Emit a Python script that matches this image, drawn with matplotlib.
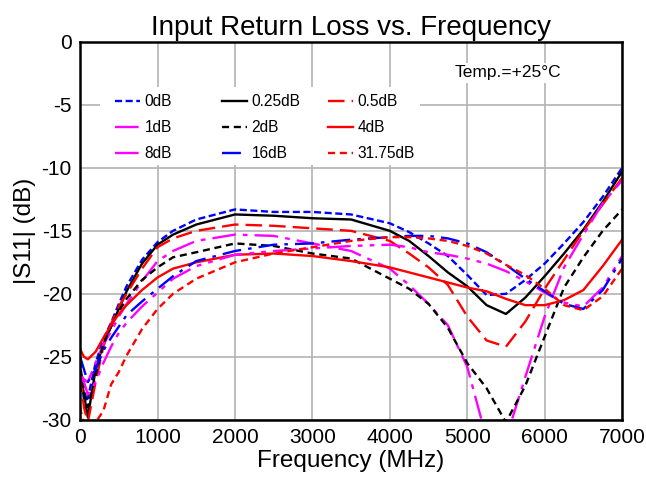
import numpy as np
import matplotlib
matplotlib.use('Agg')
import matplotlib.pyplot as plt
from matplotlib.patches import Rectangle
from matplotlib.legend import Legend

plt.rcParams['font.family'] = ['Liberation Sans', 'DejaVu Sans']
plt.rcParams['axes.unicode_minus'] = False

# frequency points (MHz)
freq = [0, 50, 100, 200, 300, 400, 500, 600, 800, 1000, 1200, 1500, 2000, 2500, 3000,
        3500, 4000, 4250, 4500, 4750, 5000, 5250, 5500, 5750, 6000, 6250, 6500, 6750, 7000]

s11_0db = [-25.3, -28.5, -28.3, -25.5, -23.6, -22.3, -20.8, -19.4, -17.3, -15.9, -15.0, -14.1, -13.3, -13.5, -13.5,
           -13.7, -14.4, -15.1, -16.0, -17.0, -18.5, -20.1, -20.0, -18.9, -17.6, -16.0, -14.3, -12.3, -10.0]
s11_025db = [-26.0, -28.0, -29.8, -26.0, -24.0, -22.6, -21.2, -19.8, -17.6, -16.1, -15.3, -14.5, -13.7, -13.8, -14.0,
             -14.1, -15.0, -15.8, -17.0, -18.3, -19.4, -20.9, -21.6, -20.3, -18.6, -16.8, -14.9, -12.7, -10.3]
s11_05db = [-26.5, -29.0, -30.2, -27.0, -24.2, -22.4, -21.0, -20.0, -18.0, -16.3, -15.6, -15.0, -14.5, -14.6, -14.8,
            -15.0, -15.8, -16.8, -17.9, -19.3, -21.8, -23.7, -24.2, -22.2, -19.6, -17.3, -15.0, -12.9, -10.8]
s11_1db = [-26.3, -26.8, -27.0, -25.5, -24.0, -23.0, -21.8, -20.8, -19.0, -17.4, -16.6, -15.8, -15.3, -15.4, -16.0,
           -16.6, -18.0, -19.3, -20.8, -22.5, -25.8, -31.5, -31.5, -26.6, -21.8, -17.9, -15.3, -12.8, -11.0]
s11_2db = [-26.0, -27.5, -29.0, -26.5, -24.0, -22.6, -21.4, -20.4, -18.9, -17.9, -17.1, -16.7, -16.0, -16.2, -16.8,
           -17.2, -18.8, -19.6, -20.8, -22.7, -25.5, -27.5, -30.2, -27.3, -23.4, -19.5, -17.1, -15.0, -13.3]
s11_4db = [-24.4, -25.0, -25.2, -24.6, -23.5, -22.5, -21.6, -20.9, -19.7, -18.7, -18.0, -17.5, -16.9, -16.8, -17.0,
           -17.4, -17.9, -18.3, -18.7, -19.1, -19.5, -19.8, -20.4, -20.9, -20.9, -20.5, -19.7, -17.8, -15.7]
s11_8db = [-26.5, -27.0, -28.0, -27.0, -25.5, -24.2, -23.1, -22.3, -21.0, -19.9, -18.8, -17.8, -16.9, -16.6, -16.4,
           -16.2, -16.1, -16.3, -16.7, -16.9, -17.2, -17.6, -18.2, -19.0, -19.9, -20.7, -21.0, -19.5, -17.0]
s11_16db = [-25.0, -26.0, -27.0, -26.0, -24.5, -23.5, -22.6, -21.7, -20.6, -19.6, -18.6, -17.4, -16.6, -16.1, -16.0,
            -15.7, -15.5, -15.4, -15.4, -15.6, -16.0, -16.7, -17.7, -18.8, -19.8, -20.8, -21.2, -19.7, -17.2]
s11_3175db = [-29.0, -30.5, -30.5, -30.2, -29.3, -27.2, -26.2, -24.9, -22.8, -21.2, -20.0, -18.8, -17.5, -16.8, -16.3,
              -15.8, -15.5, -15.5, -15.6, -15.8, -16.2, -16.8, -17.7, -18.5, -19.6, -20.9, -21.3, -20.2, -18.0]

labels = ['0dB', '0.25dB', '0.5dB', '1dB', '2dB', '4dB', '8dB', '16dB', '31.75dB']
series = [s11_0db, s11_025db, s11_05db, s11_1db, s11_2db, s11_4db, s11_8db, s11_16db, s11_3175db]
colors = ['#0000ff', '#000000', '#ff0000', '#ff00ff', '#000000', '#ff0000', '#ff00ff', '#0000ff', '#ff0000']
styles = [(0, (3, 1.5)), '-', (0, (7, 3)), (0, (10, 3, 2, 3)), (0, (3, 2)), '-',
          (0, (10, 3, 2, 3, 2, 3)), (0, (8, 3, 1.5, 3)), (0, (3, 2))]

fig = plt.figure(figsize=(6.46, 4.87), dpi=100)
ax = fig.add_axes([0.124, 0.138, 0.839, 0.776])

lines = []
for lab, ys, c, ls in zip(labels, series, colors, styles):
    ln, = ax.plot(freq, ys, color=c, linestyle=ls, lw=1.7, label=lab)
    lines.append(ln)

ax.set_xlim(0, 7000)
ax.set_ylim(-30, 0)
ax.set_xticks(np.arange(0, 7001, 1000))
ax.set_yticks(np.arange(-30, 1, 5))
ax.grid(True, color='#b3b3b3', lw=1.2)
ax.set_axisbelow(True)
ax.tick_params(length=0, labelsize=15, pad=6)
for sp in ax.spines.values():
    sp.set_linewidth(1.8)

ax.set_title('Input Return Loss vs. Frequency', fontsize=20, pad=5)
ax.set_xlabel('Frequency (MHz)', fontsize=17.5, labelpad=2)
ax.set_ylabel('|S11| (dB)', fontsize=17.5, labelpad=4)

# white box behind the legend (hides the grid)
ax.add_patch(Rectangle((0.037, 0.675), 0.59, 0.205, transform=ax.transAxes,
                       facecolor='white', edgecolor='none', zorder=2.5))

# legend drawn as three columns, filled row by row like the original
col_x = [0.0646, 0.262, 0.4576]
for k in range(3):
    idx = [k, k + 3, k + 6]
    lg = Legend(ax, [lines[i] for i in idx], [labels[i] for i in idx],
                loc='upper left', bbox_to_anchor=(col_x[k], 0.861), fontsize=11.2,
                frameon=False, handlelength=1.6, handletextpad=0.3,
                labelspacing=0.70, borderpad=0, borderaxespad=0)
    lg.set_zorder(3)
    ax.add_artist(lg)

ax.text(0.79, 0.918, 'Temp.=+25°C', transform=ax.transAxes, fontsize=12.5,
        ha='center', va='center', zorder=3,
        bbox=dict(facecolor='white', edgecolor='none', pad=2))

fig.savefig('out.png', dpi=100)
